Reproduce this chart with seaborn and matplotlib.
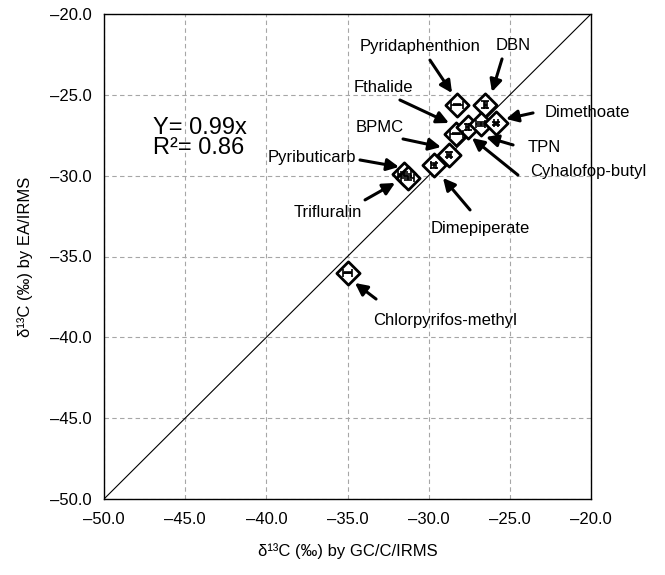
import matplotlib
matplotlib.use("Agg")
import matplotlib.pyplot as plt
import seaborn as sns
import pandas as pd
import numpy as np

# ---- data ----
compounds = ["Chlorpyrifos-methyl", "Pyributicarb", "Trifluralin", "Dimepiperate",
             "BPMC", "Fthalide", "Cyhalofop-butyl", "Pyridaphenthion", "DBN",
             "TPN", "Dimethoate"]
gc_c_irms = [-35.0, -31.5, -31.3, -29.7, -28.75, -28.3, -27.6, -28.25, -26.5, -26.8, -25.85]
ea_irms   = [-36.0, -29.9, -30.15, -29.35, -28.7, -27.4, -27.0, -25.6, -25.6, -26.8, -26.75]
gc_err    = [0.30, 0.40, 0.40, 0.15, 0.15, 0.40, 0.10, 0.35, 0.10, 0.30, 0.15]
ea_err    = [0.05, 0.10, 0.10, 0.15, 0.15, 0.05, 0.20, 0.05, 0.20, 0.10, 0.10]
ticks = [-50.0, -45.0, -40.0, -35.0, -30.0, -25.0, -20.0]
slope_text = "Y= 0.99x"
r2_text = "R\u00b2= 0.86"

df = pd.DataFrame({"compound": compounds, "gc": gc_c_irms, "ea": ea_irms,
                   "gc_err": gc_err, "ea_err": ea_err})

# label layout: (text x, text y, ha, arrow tail, arrow head)
label_layout = {
    "Pyridaphenthion": (-30.53, -22.04, "center", (-29.92, -22.85), (-28.56, -24.89)),
    "DBN": (-24.80, -21.92, "center", (-25.48, -22.78), (-26.10, -24.82)),
    "Fthalide": (-32.81, -24.52, "center", (-31.77, -25.32), (-28.75, -26.74)),
    "Dimethoate": (-22.83, -26.12, "left", (-23.57, -26.12), (-25.24, -26.49)),
    "BPMC": (-33.0, -26.99, "center", (-31.58, -27.73), (-29.24, -28.23)),
    "TPN": (-23.88, -28.23, "left", (-24.80, -28.10), (-26.47, -27.61)),
    "Cyhalofop-butyl": (-23.76, -29.77, "left", (-24.50, -29.96), (-27.33, -27.67)),
    "Pyributicarb": (-37.19, -28.85, "center", (-34.23, -29.03), (-31.83, -29.46)),
    "Trifluralin": (-36.20, -32.25, "center", (-33.92, -31.50), (-32.07, -30.45)),
    "Dimepiperate": (-26.84, -33.24, "center", (-27.45, -32.12), (-29.12, -30.14)),
    "Chlorpyrifos-methyl": (-33.43, -38.93, "left", (-33.24, -37.63), (-34.54, -36.64)),
}

sns.set_theme(style="white")
plt.rcParams["font.family"] = ["Liberation Sans", "DejaVu Sans"]

fig = plt.figure(figsize=(6.65, 5.75), dpi=100)
ax = fig.add_axes([104 / 665, 76 / 575, 487 / 665, 485 / 575])

ax.set_xlim(-50, -20)
ax.set_ylim(-50, -20)
ax.set_xticks(ticks)
ax.set_yticks(ticks)
ax.set_xticklabels([f"{t:.1f}".replace("-", "\u2013") for t in ticks])
ax.set_yticklabels([f"{t:.1f}".replace("-", "\u2013") for t in ticks])
ax.tick_params(axis="both", length=0, pad=9, labelsize=12, colors="black")

ax.grid(True, color="#a6a6a6", linestyle=(0, (4, 3)), linewidth=0.8)
ax.set_axisbelow(True)
for sp in ax.spines.values():
    sp.set_color("black")
    sp.set_linewidth(1.0)

# 1:1 line
ax.plot([-50, -20], [-50, -20], color="black", linewidth=0.8, zorder=2)

sns.scatterplot(data=df, x="gc", y="ea", marker="D", s=140, facecolor="white",
                edgecolor="black", linewidth=2.0, ax=ax, zorder=3, legend=False)
ax.errorbar(df["gc"], df["ea"], xerr=df["gc_err"], yerr=df["ea_err"], fmt="none",
            ecolor="black", elinewidth=1.2, capsize=3, capthick=1.2, zorder=4)

for name, (tx, ty, ha, tail, head) in label_layout.items():
    ax.text(tx, ty, name, ha=ha, va="center", fontsize=12, color="black", zorder=5)
    ax.annotate("", xy=head, xytext=tail,
                arrowprops=dict(arrowstyle="-|>,head_length=0.6,head_width=0.3",
                                color="black", lw=2.2, shrinkA=0, shrinkB=0),
                zorder=5)

ax.text(-46.98, -27.05, slope_text, ha="left", va="center", fontsize=17, color="black")
ax.text(-46.98, -28.29, r2_text, ha="left", va="center", fontsize=17, color="black")

ax.set_xlabel("\u03b4\u00b9\u00b3C (\u2030) by GC/C/IRMS", fontsize=12, labelpad=12, color="black")
ax.set_ylabel("\u03b4\u00b9\u00b3C (\u2030) by EA/IRMS", fontsize=12, labelpad=12, color="black")

fig.savefig("out.png", dpi=100, facecolor="white")
